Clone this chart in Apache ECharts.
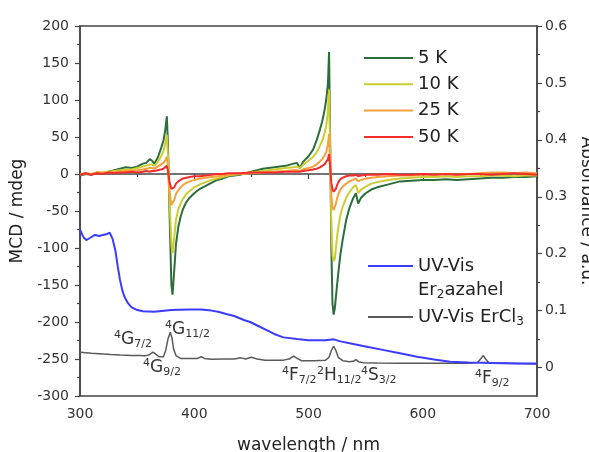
<!DOCTYPE html>
<html>
<head>
<meta charset="utf-8">
<script src="https://cdn.jsdelivr.net/npm/echarts@6.0.0/dist/echarts.min.js"></script>
<style>
  html, body { margin: 0; padding: 0; background: #fff; }
  #chart { width: 589px; height: 452px; }
</style>
</head>
<body>
<div id="chart"></div>
<script>
// MCD wavelengths (nm), shared by the four temperature curves
var mcdWl = [300, 305, 310, 315, 320, 325, 330, 335, 340, 345, 350, 355, 358, 361, 363, 365, 368, 371, 373, 374.5,
  376, 377, 378.5, 380, 381, 382.5, 384, 386, 388, 390, 393, 396, 400, 405, 410, 415, 420, 425, 430, 440,
  450, 460, 470, 480, 487, 490, 492.5, 495, 500, 504, 507, 510, 512, 514, 515.5, 517, 518, 519, 520, 521,
  522, 523, 524, 525, 526.5, 528, 530, 533, 536, 539, 541.5, 543.5, 546, 550, 555, 560, 570, 580, 590, 600,
  610, 620, 630, 640, 650, 660, 670, 680, 690, 700];

// MCD / mdeg
var mcd5K = [-2, 0, -1, 2, 1, 3, 5, 7, 9, 8, 10, 14, 15, 20, 18, 14, 22, 35, 45, 58,
  78, 40, -60, -150, -163, -130, -95, -72, -58, -48, -38, -32, -26, -20, -16, -12, -8, -6, -3, -1,
  3, 7, 9, 11, 14, 15, 8, 16, 24, 33, 45, 60, 71, 86, 100, 122, 165, 40, -100, -175,
  -190, -182, -166, -150, -128, -108, -88, -62, -45, -33, -26, -40, -32, -26, -21, -18, -14, -10, -9, -8,
  -8, -7, -8, -7, -6, -5, -5, -4, -4, -3];
var mcd10K = [-1, 1, 0, 2, 2, 3, 4, 5, 6, 6, 8, 10, 11, 13, 13, 11, 16, 24, 31, 40,
  53, 25, -40, -95, -107, -85, -62, -48, -40, -34, -27, -23, -18, -14, -11, -8, -6, -4, -2, 0,
  2, 4, 6, 8, 9, 10, 8, 12, 18, 23, 29, 38, 45, 55, 65, 85, 114, 30, -70, -110,
  -118, -115, -100, -85, -68, -55, -44, -32, -24, -18, -15, -26, -21, -17, -13, -11, -8, -6, -5, -4,
  -4, -3, -4, -3, -3, -2, -2, -3, -2, -2];
var mcd25K = [0, 1, 0, 2, 2, 2, 3, 3, 4, 4, 5, 6, 7, 8, 8, 7, 10, 13, 15, 18,
  23, 10, -25, -42, -44, -35, -27, -22, -18, -15, -12, -10, -8, -6, -5, -4, -3, -2, -1, 0,
  1, 2, 3, 4, 5, 5, 4, 6, 8, 10, 13, 17, 20, 25, 30, 40, 54, 15, -30, -45,
  -49, -47, -40, -33, -26, -21, -17, -13, -10, -8, -6, -10, -8, -6, -5, -4, -3, -2, -2, -1,
  -1, 0, -1, 0, 1, 2, 2, 1, 2, 1];
var mcd50K = [-1, 1, -1, 1, 0, 2, 1, 2, 2, 3, 2, 3, 4, 3, 4, 4, 5, 6, 7, 8,
  11, 4, -12, -20, -22, -18, -13, -10, -8, -6, -5, -4, -3, -3, -2, -1, 0, 0, 1, 1,
  2, 2, 2, 3, 3, 3, 3, 4, 5, 6, 7, 9, 11, 13, 15, 20, 27, 8, -12, -21,
  -24, -23, -20, -15, -10, -7, -5, -3, -2, -2, -1, -3, -2, -1, -1, -1, 0, -1, -1, 0,
  -1, 0, -1, 0, 0, -1, 0, 1, 0, -1];

// UV-Vis Er2azahel, absorbance / a.u.
var absWl = [300, 303, 305.5, 309, 313, 317, 320, 323, 326, 328.5, 331, 333, 335, 337, 339, 342, 345, 350, 355, 365,
  380, 395, 406, 415, 421, 428, 435, 444, 449, 456, 463, 470, 478, 490, 500, 507, 515, 522, 528, 536,
  550, 565, 580, 595, 610, 624, 640, 653, 660, 670, 680, 690, 700];
var absEr2 = [0.242, 0.229, 0.224, 0.228, 0.233, 0.231, 0.233, 0.234, 0.237, 0.226, 0.205, 0.178, 0.154, 0.136, 0.124, 0.113, 0.106, 0.101, 0.099, 0.098,
  0.101, 0.102, 0.102, 0.100, 0.098, 0.094, 0.0905, 0.083, 0.080, 0.073, 0.066, 0.059, 0.053, 0.050, 0.048, 0.048, 0.048, 0.0495, 0.046, 0.0425,
  0.037, 0.031, 0.025, 0.019, 0.014, 0.010, 0.009, 0.0085, 0.008, 0.0075, 0.007, 0.007, 0.007];

// UV-Vis ErCl3, absorbance / a.u.
var clWl = [300, 310, 320, 327, 335, 345, 352, 357, 360, 364, 366, 369, 373, 375, 377, 379, 380.5, 382, 384, 388,
  395, 403, 406, 409, 415, 425, 435, 441, 445, 450, 455, 462, 470, 478, 483, 487, 490, 494, 505, 515,
  518, 520, 522, 524, 526, 530, 536, 539, 541.5, 544, 548, 560, 580, 600, 620, 640, 648, 651, 653, 655,
  658, 670, 685, 700];
var absErCl3 = [0.027, 0.025, 0.024, 0.023, 0.022, 0.021, 0.021, 0.0205, 0.022, 0.027, 0.024, 0.019, 0.019, 0.030, 0.050, 0.062, 0.052, 0.032, 0.021, 0.016,
  0.016, 0.016, 0.019, 0.016, 0.0145, 0.015, 0.015, 0.017, 0.015, 0.018, 0.015, 0.013, 0.013, 0.013, 0.015, 0.020, 0.016, 0.012, 0.012, 0.013,
  0.018, 0.030, 0.037, 0.030, 0.018, 0.012, 0.010, 0.011, 0.014, 0.010, 0.0085, 0.008, 0.0075, 0.0075, 0.0075, 0.0075, 0.009, 0.016, 0.021, 0.015,
  0.008, 0.008, 0.007, 0.006];

// right axis ticks
var absTicks = [0, 0.1, 0.2, 0.3, 0.4, 0.5, 0.6];
var absMinorTicks = [0.05, 0.15, 0.25, 0.35, 0.45, 0.55];

// Er3+ transitions marked under the ErCl3 spectrum
var bandNames = ['{sup|4}G{sub|7/2}', '{sup|4}G{sub|9/2}', '{sup|4}G{sub|11/2}', '{sup|4}F{sub|7/2}',
  '{sup|2}H{sub|11/2}', '{sup|4}S{sub|3/2}', '{sup|4}F{sub|9/2}'];

var FONT = 'DejaVu Sans';
var AXIS = '#444';

function pairs(wl, v) {
  return wl.map(function (w, i) { return [w, v[i]]; });
}

var chart = echarts.init(document.getElementById('chart'), null, { renderer: 'canvas' });

var richText = {
  sup: { fontFamily: FONT, fontSize: 11, padding: [0, 0, 9, 0], color: '#333' },
  sub: { fontFamily: FONT, fontSize: 11, padding: [9, 0, 0, 0], color: '#333' }
};

function mcdSeries(name, data, color) {
  return {
    name: name, type: 'line', xAxisIndex: 0, yAxisIndex: 0,
    data: pairs(mcdWl, data), symbol: 'none', showSymbol: false,
    lineStyle: { color: color, width: 2 }, itemStyle: { color: color },
    z: 3
  };
}

// annotation positions (px)
var bandPos = [[114, 340], [143, 368], [165, 330], [282, 376], [317, 376], [361, 376], [475, 379]];
var graphics = bandNames.map(function (t, i) {
  return {
    type: 'text', x: bandPos[i][0], y: bandPos[i][1], z: 10,
    style: {
      text: t, fill: '#333', fontFamily: FONT, fontSize: 17,
      verticalAlign: 'middle', align: 'left', rich: richText
    }
  };
});

var legendText = { fontFamily: FONT, fontSize: 18, color: '#222' };
var legendSub = { sub: { fontFamily: FONT, fontSize: 12, padding: [10, 0, 0, 0], color: '#222' } };

var option = {
  backgroundColor: '#fff',
  animation: false,
  grid: {
    left: 80, right: 52, top: 26, bottom: 56, outerBoundsMode: 'none',
    show: true, borderColor: AXIS, borderWidth: 1.5
  },
  legend: [
    {
      data: ['5 K', '10 K', '25 K', '50 K'], orient: 'vertical', left: 364, top: 47.5, padding: 0,
      icon: 'rect', itemWidth: 49, itemHeight: 2, itemGap: 5.3,
      textStyle: Object.assign({ lineHeight: 21 }, legendText)
    },
    {
      data: ['UV-Vis Er2azahel'], orient: 'vertical', left: 368, top: 230, padding: 0,
      icon: 'rect', itemWidth: 45, itemHeight: 2,
      formatter: function () { return 'UV-Vis\nEr{sub|2}azahel'; },
      textStyle: Object.assign({ lineHeight: 24, padding: [24, 0, 0, 0], rich: legendSub }, legendText)
    },
    {
      data: ['UV-Vis ErCl3'], orient: 'vertical', left: 368, top: 305, padding: 0,
      icon: 'rect', itemWidth: 45, itemHeight: 2,
      formatter: function () { return 'UV-Vis ErCl{sub|3}'; },
      textStyle: Object.assign({ lineHeight: 24, rich: legendSub }, legendText)
    }
  ],
  xAxis: {
    type: 'value', min: 300, max: 700, interval: 100,
    name: 'wavelength / nm', nameLocation: 'middle', nameGap: 41,
    nameTextStyle: { fontFamily: FONT, fontSize: 17, color: '#222' },
    axisLine: { lineStyle: { color: AXIS, width: 1.5 } },
    axisTick: { length: 5, lineStyle: { color: AXIS, width: 1.2 } },
    minorTick: { show: true, splitNumber: 2, length: 3, lineStyle: { color: AXIS, width: 1.2 } },
    axisLabel: { fontFamily: FONT, fontSize: 14, color: '#333', margin: 11 },
    splitLine: { show: false }
  },
  yAxis: [
    {
      type: 'value', min: -300, max: 200, interval: 50, position: 'left',
      name: 'MCD / mdeg', nameLocation: 'middle', nameGap: 47,
      nameTextStyle: { fontFamily: FONT, fontSize: 17, color: '#222' },
      axisLine: { show: true, lineStyle: { color: AXIS, width: 1.5 } },
      axisTick: { show: true, length: 5, lineStyle: { color: AXIS, width: 1.2 } },
      minorTick: { show: true, splitNumber: 2, length: 3, lineStyle: { color: AXIS, width: 1.2 } },
      axisLabel: { fontFamily: FONT, fontSize: 14, color: '#333', margin: 11 },
      splitLine: { show: false }
    },
    {
      type: 'value', min: -0.05, max: 0.6, interval: 0.05, position: 'right',
      name: 'Absorbance / a.u.', nameLocation: 'middle', nameGap: 40, nameRotate: -90,
      nameTextStyle: { fontFamily: FONT, fontSize: 17, color: '#222' },
      axisLine: { show: true, lineStyle: { color: AXIS, width: 1.5 } },
      axisTick: { show: true, length: 5, customValues: absTicks, lineStyle: { color: AXIS, width: 1.2 } },
      axisLabel: { fontFamily: FONT, fontSize: 14, color: '#333', margin: 8, customValues: absTicks,
        formatter: function (v) { return Math.abs(v) < 1e-9 ? '0' : String(+v.toFixed(2)); } },
      splitLine: { show: false }
    },
    {
      // minor ticks of the absorbance axis
      type: 'value', min: -0.05, max: 0.6, interval: 0.05, position: 'right',
      axisLine: { show: false },
      axisTick: { show: true, length: 3, customValues: absMinorTicks, lineStyle: { color: AXIS, width: 1.2 } },
      axisLabel: { show: false },
      splitLine: { show: false }
    }
  ],
  graphic: graphics,
  series: [
    {
      name: 'UV-Vis ErCl3', type: 'line', yAxisIndex: 1, data: pairs(clWl, absErCl3),
      symbol: 'none', lineStyle: { color: '#5a5a5a', width: 1.5 }, itemStyle: { color: '#5a5a5a' }, z: 2
    },
    {
      name: 'UV-Vis Er2azahel', type: 'line', yAxisIndex: 1, data: pairs(absWl, absEr2),
      symbol: 'none', lineStyle: { color: '#3b3bff', width: 2 }, itemStyle: { color: '#3b3bff' }, z: 2
    },
    mcdSeries('5 K', mcd5K, '#2b6e3b'),
    mcdSeries('10 K', mcd10K, '#cccc33'),
    mcdSeries('25 K', mcd25K, '#f7a13b'),
    mcdSeries('50 K', mcd50K, '#f42c2c')
  ]
};

chart.setOption(option);
</script>
</body>
</html>
